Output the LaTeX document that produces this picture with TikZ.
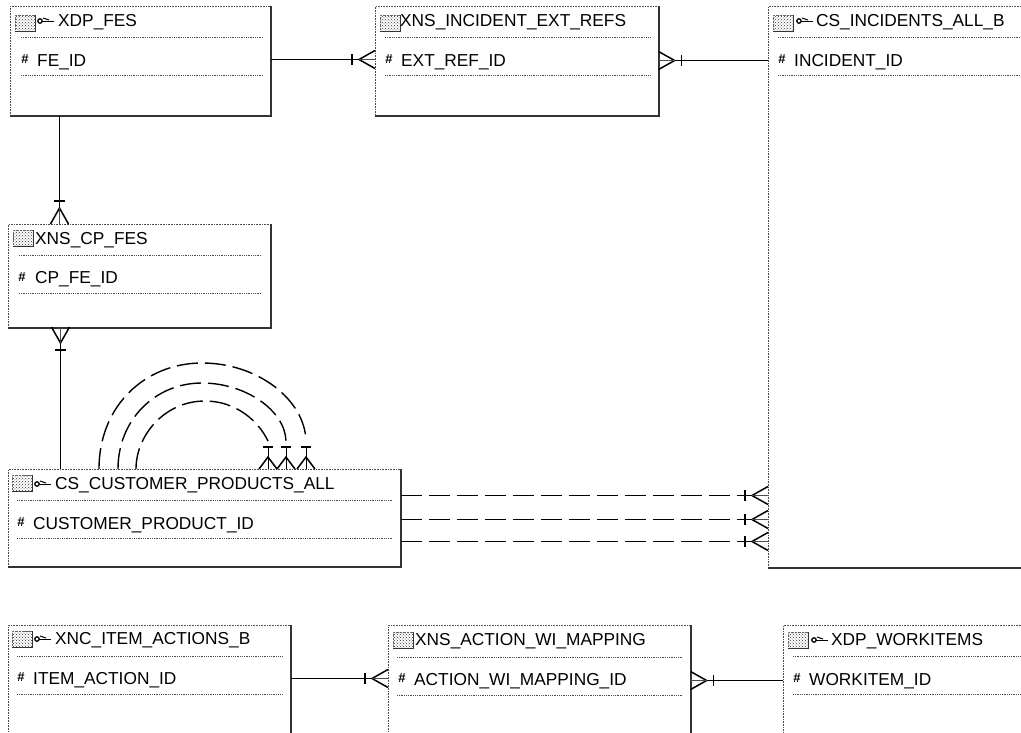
\documentclass[tikz,border=0pt]{standalone}
\usepackage{fontspec}
\setmainfont{Liberation Sans}
\usetikzlibrary{patterns}
\tikzset{
    erbox/.style={draw=black!70, densely dotted, line width=0.6pt, fill=white, anchor=north west, inner sep=0pt},
    edge/.style={draw=black!80, line width=2pt},
    rowline/.style={draw=black!70, densely dotted, line width=0.8pt},
    rel/.style={line width=1.6pt},
    reldash/.style={line width=1.4pt, dash pattern=on 21pt off 7pt},
    title/.style={anchor=base west, inner sep=0pt, font=\fontsize{17.3}{17.3}\selectfont},
    hash/.style={anchor=center, inner sep=0pt, font=\fontsize{13}{13}\selectfont\bfseries},
    tableicon/.style={draw=black!60, densely dotted, pattern=crosshatch dots, pattern color=black!80, minimum width=20pt, minimum height=16pt, anchor=north west, inner sep=0pt},
    crow/.pic={
        \draw[line width=1.5pt] (0,-9) -- (-16,0) -- (0,9);
        \draw[line width=0.7pt, draw=black!70] (0,0) -- (-16,0);
        \draw[line width=1.3pt] (-23,-5.5) -- (-23,5.5);
    },
    crowshort/.pic={
        \draw[line width=1.5pt] (0,-9) -- (-12,0) -- (0,9);
        \draw[line width=1pt] (0,0) -- (-22,0);
        \draw[line width=1.3pt] (-22,-5) -- (-22,5);
    },
    keyicon/.pic={
        \draw[line width=1.3pt] (0,0) circle (2.2pt);
        \draw[line width=1.8pt] (2,0.5) -- (14,0.5);
        \draw[line width=1pt] (3,-3) -- (9,-1);
    }
}
\begin{document}
\begin{tikzpicture}[x=1pt, y=-1pt]
    \useasboundingbox (0,0) rectangle (1021,732);
    \clip (0,0) rectangle (1021,732);
    % boxes
    \node[erbox, minimum width=260pt, minimum height=109pt] (fes) at (10,6) {};
    \node[erbox, minimum width=283pt, minimum height=109pt] (extref) at (375,6) {};
    \node[erbox, minimum width=300pt, minimum height=561pt] (incident) at (768,6) {};
    \node[erbox, minimum width=262pt, minimum height=103pt] (cpfes) at (8,224) {};
    \node[erbox, minimum width=392pt, minimum height=97pt] (customer) at (8,469) {};
    \node[erbox, minimum width=282pt, minimum height=140pt] (itemaction) at (8,625) {};
    \node[erbox, minimum width=302pt, minimum height=140pt] (mapping) at (388,625) {};
    \node[erbox, minimum width=300pt, minimum height=140pt] (workitem) at (783,625) {};
    \foreach \b in {fes,extref,incident,cpfes,customer,itemaction,mapping,workitem}
        \draw[edge] (\b.north east) -- (\b.south east) -- (\b.south west);
    % row lines
    \draw[rowline] (21,37) -- (263,37) (21,75) -- (263,75);
    \draw[rowline] (385,37) -- (650,37) (385,75) -- (650,75);
    \draw[rowline] (778,37) -- (1021,37) (778,75) -- (1021,75);
    \draw[rowline] (19,255) -- (262,255) (19,293) -- (262,293);
    \draw[rowline] (17,500) -- (392,500) (17,538) -- (392,538);
    \draw[rowline] (17,656) -- (283,656) (17,694) -- (283,694);
    \draw[rowline] (397,657) -- (682,657) (397,695) -- (682,695);
    \draw[rowline] (793,656) -- (1021,656) (793,694) -- (1021,694);
    % icons
    \node[tableicon] (fesicon) at (15,15) {};
    \node[tableicon] (extreficon) at (380,15) {};
    \node[tableicon] (incidenticon) at (773,15) {};
    \node[tableicon] (cpfesicon) at (13,230) {};
    \node[tableicon] (customericon) at (12,475) {};
    \node[tableicon] (itemactionicon) at (12,631) {};
    \node[tableicon] (mappingicon) at (393,632) {};
    \node[tableicon] (workitemicon) at (788,632) {};
    \foreach \b in {fesicon,extreficon,incidenticon,cpfesicon,customericon,itemactionicon,mappingicon,workitemicon}
        \draw[line width=1.2pt, draw=black!80] (\b.south west) -- (\b.south east) -- (\b.north east);
    \pic at (40,21) {keyicon};
    \pic at (799,21) {keyicon};
    \pic at (37,484) {keyicon};
    \pic at (37,639) {keyicon};
    \pic at (814,640) {keyicon};
    % titles
    \node[title] (festitle) at (58,26) {XDP\_FES};
    \node[title] (extreftitle) at (400,26) {XNS\_INCIDENT\_EXT\_REFS};
    \node[title] (incidenttitle) at (816,26) {CS\_INCIDENTS\_ALL\_B};
    \node[title] (cpfestitle) at (35,244) {XNS\_CP\_FES};
    \node[title] (customertitle) at (55,489) {CS\_CUSTOMER\_PRODUCTS\_ALL};
    \node[title] (itemactiontitle) at (55,644) {XNC\_ITEM\_ACTIONS\_B};
    \node[title] (mappingtitle) at (415,645) {XNS\_ACTION\_WI\_MAPPING};
    \node[title] (workitemtitle) at (831,645) {XDP\_WORKITEMS};
    % key rows
    \node[hash] (feshash) at (25,59) {\#};
    \node[title] (fesid) at (37,66) {FE\_ID};
    \node[hash] (extrefhash) at (389,59) {\#};
    \node[title] (extrefid) at (401,66) {EXT\_REF\_ID};
    \node[hash] (incidenthash) at (782,59) {\#};
    \node[title] (incidentid) at (794,66) {INCIDENT\_ID};
    \node[hash] (cpfeshash) at (22,277) {\#};
    \node[title] (cpfesid) at (35,283) {CP\_FE\_ID};
    \node[hash] (customerhash) at (21,522) {\#};
    \node[title] (customerid) at (33,529) {CUSTOMER\_PRODUCT\_ID};
    \node[hash] (itemactionhash) at (21,677) {\#};
    \node[title] (itemactionid) at (33,684) {ITEM\_ACTION\_ID};
    \node[hash] (mappinghash) at (402,678) {\#};
    \node[title] (mappingid) at (414,685) {ACTION\_WI\_MAPPING\_ID};
    \node[hash] (workitemhash) at (797,678) {\#};
    \node[title] (workitemid) at (809,685) {WORKITEM\_ID};
    % ports
    \coordinate (extrefL) at (extref.west |- 0,59.5);
    \coordinate (extrefR) at (extref.east |- 0,60.5);
    \coordinate (cpfesT) at (59.5,224);
    \coordinate (cpfesB) at (60.5,327);
    \coordinate (itemR) at (itemaction.east |- 0,678.5);
    \coordinate (mappingL) at (mapping.west |- 0,678.5);
    \coordinate (mappingR) at (mapping.east |- 0,680.5);
    \coordinate (incidentA) at (incident.west |- 0,495.5);
    \coordinate (incidentB) at (incident.west |- 0,519.5);
    \coordinate (incidentC) at (incident.west |- 0,541.5);
    \coordinate (loopA) at (99,469);
    \coordinate (loopB) at (118,469);
    \coordinate (loopC) at (136,469);
    \coordinate (footA) at (306,469);
    \coordinate (footB) at (286,469);
    \coordinate (footC) at (268,469);
    % relations
    \draw[rel] (fes.east |- extrefL) -- (358,59.5);
    \draw[rel] (extrefR) -- (incident.west |- extrefR);
    \draw[rel] (fes.south -| cpfesT) -- (cpfesT);
    \draw[rel] (cpfesB) -- (customer.north -| cpfesB);
    \draw[rel] (itemR) -- (372,678.5);
    \draw[rel] (mappingR) -- (workitem.west |- mappingR);
    \draw[reldash] (customer.east |- incidentA) -- (incidentA);
    \draw[reldash] (customer.east |- incidentB) -- (incidentB);
    \draw[reldash] (customer.east |- incidentC) -- (incidentC);
    \draw[reldash] (loopA) .. controls (99,405) and (146,363) .. (202,363) .. controls (258,363) and (305,400) .. (footA |- 0,441);
    \draw[reldash] (loopB) .. controls (118,420) and (155,383) .. (202,383) .. controls (245,383) and (285,410) .. (footB |- 0,441);
    \draw[reldash] (loopC) .. controls (136,435) and (165,401) .. (205,401) .. controls (235,401) and (258,420) .. (footC |- 0,441);
    % crow feet
    \pic at (extrefL) {crow};
    \pic[rotate=180] at (extrefR) {crow};
    \pic[rotate=-90] at (cpfesT) {crow};
    \pic[rotate=90] at (cpfesB) {crow};
    \pic at (mappingL) {crow};
    \pic[rotate=180] at (mappingR) {crow};
    \pic at (incidentA) {crow};
    \pic at (incidentB) {crow};
    \pic at (incidentC) {crow};
    \pic[rotate=-90] at (footA) {crowshort};
    \pic[rotate=-90] at (footB) {crowshort};
    \pic[rotate=-90] at (footC) {crowshort};
\end{tikzpicture}
\end{document}
